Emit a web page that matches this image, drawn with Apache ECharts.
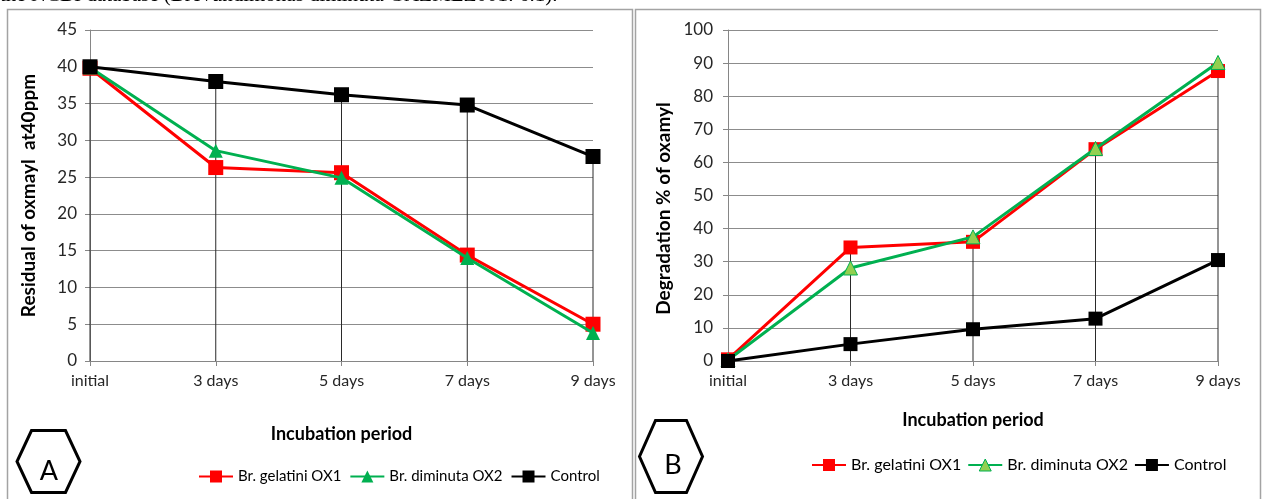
<!DOCTYPE html>
<html>
<head>
<meta charset="utf-8">
<script src="https://cdn.jsdelivr.net/npm/echarts@6/dist/echarts.min.js"></script>
<style>
html,body{margin:0;padding:0;background:#fff;}
#chart{width:1263px;height:499px;}
</style>
</head>
<body>
<div id="chart"></div>
<script>
// ---- data ----
const categories = ['initial', '3 days', '5 days', '7 days', '9 days'];
const seriesNames = ['Br. gelatini OX1', 'Br. diminuta OX2', 'Control'];
// Panel A: residual of oxamyl (ppm)
const residualGelatini = [39.8, 26.3, 25.6, 14.4, 5.0];
const residualDiminuta = [39.9, 28.6, 24.9, 14.0, 3.8];
const residualControl  = [40.0, 38.0, 36.2, 34.8, 27.8];
// Panel B: degradation %
const degradGelatini = [0.5, 34.3, 36.0, 64.0, 87.6];
const degradDiminuta = [0.3, 28.1, 37.5, 64.2, 90.2];
const degradControl  = [0.0, 5.1, 9.6, 12.8, 30.5];
// axis ranges
const residualAxis = {min: 0, max: 45, interval: 5};
const degradAxis = {min: 0, max: 100, interval: 10};
const panelLabels = ['A', 'B'];
const xTitle = 'Incubation period';
const yTitleA = 'Residual of oxmayl  at40ppm';
const yTitleB = 'Degradation % of oxamyl';
const headerText = 'the NCBI database (Brevundimonas diminuta GAZMEZ001: 6.1).';

// ---- styles ----
const FONT = 'Lato, "Open Sans", sans-serif';
const RED = '#ff0000', GREEN = '#00b050', LIGHTGREEN = '#92d050', BLACK = '#000000';
const AXIS = '#868686', GRID = '#8c8c8c';

function dropData(a, b, c) {
  return categories.map((_, i) => [i, Math.max(a[i], b[i], c[i])]);
}

function dropSeries(xi, data) {
  return {
    type: 'custom', xAxisIndex: xi, yAxisIndex: xi, z: 1, silent: true,
    data: data,
    renderItem: function (params, api) {
      const top = api.coord([api.value(0), api.value(1)]);
      const bot = api.coord([api.value(0), 0]);
      return {type: 'line', shape: {x1: top[0], y1: top[1], x2: bot[0], y2: bot[1]},
              style: {stroke: '#2a2a2a', lineWidth: 1}};
    }
  };
}

function lineSeries(xi, name, data, color, symbol, size, fill, border, z) {
  return {
    type: 'line', name: name, xAxisIndex: xi, yAxisIndex: xi, data: data,
    symbol: symbol, symbolSize: size, z: z,
    lineStyle: {color: color, width: 3},
    itemStyle: {color: fill, borderColor: border, borderWidth: border === fill ? 0 : 1},
    emphasis: {disabled: true},
    animation: false
  };
}

function xAxisOpt(gi, gap) {
  return {
    type: 'category', gridIndex: gi, data: categories, boundaryGap: false,
    axisLine: {lineStyle: {color: AXIS, width: 1}},
    axisTick: {show: true, length: 5, lineStyle: {color: AXIS}},
    axisLabel: {color: '#262626', fontSize: 16, fontFamily: FONT, margin: 12},
    splitLine: {show: false},
    name: xTitle, nameLocation: 'middle', nameGap: gap,
    nameTextStyle: {color: '#000', fontSize: 18, fontWeight: 'bold', fontFamily: FONT}
  };
}

function yAxisOpt(gi, range, title, gap, lblMargin, pad) {
  return {
    type: 'value', gridIndex: gi, min: range.min, max: range.max, interval: range.interval,
    axisLine: {show: true, lineStyle: {color: AXIS, width: 1}},
    axisTick: {show: true, length: 5, lineStyle: {color: AXIS}},
    axisLabel: {color: '#262626', fontSize: 17, fontFamily: FONT, margin: lblMargin},
    splitLine: {show: true, lineStyle: {color: GRID, width: 1}},
    name: title, nameLocation: 'middle', nameGap: gap,
    nameTextStyle: {color: '#000', fontSize: 19, fontWeight: 'bold', fontFamily: FONT, padding: pad}
  };
}

function hexagon(cx, cy, hw, tw, hh) {
  return [[cx - tw, cy - hh], [cx + tw, cy - hh], [cx + hw, cy], [cx + tw, cy + hh], [cx - tw, cy + hh], [cx - hw, cy]];
}

const legendText = {color: '#000', fontSize: 15, fontFamily: FONT};

const option = {
  backgroundColor: '#fff',
  animation: false,
  grid: [
    {left: 90, top: 30, width: 503, height: 331},
    {left: 728, top: 30, width: 490, height: 331}
  ],
  xAxis: [xAxisOpt(0, 64), xAxisOpt(1, 50)],
  yAxis: [yAxisOpt(0, residualAxis, yTitleA, 52, 13, [0, 0, 0, 0]),
          yAxisOpt(1, degradAxis, yTitleB, 55, 15, [0, 26, 0, 0])],
  legend: [
    {left: 193, top: 464, itemWidth: 34, itemHeight: 15, itemGap: 8, textStyle: legendText,
     data: seriesNames, selectedMode: false},
    {left: 806, top: 452, itemWidth: 34, itemHeight: 15, itemGap: 6,
     textStyle: {color: '#000', fontSize: 16, fontFamily: FONT},
     selectedMode: false,
     data: [
       {name: seriesNames[0], itemStyle: {color: RED, borderWidth: 0}},
       {name: seriesNames[1], itemStyle: {color: LIGHTGREEN, borderColor: GREEN, borderWidth: 1}},
       {name: seriesNames[2], itemStyle: {color: BLACK, borderWidth: 0}}
     ]}
  ],
  series: [
    dropSeries(0, dropData(residualGelatini, residualDiminuta, residualControl)),
    lineSeries(0, seriesNames[0], residualGelatini, RED, 'rect', 15, RED, RED, 3),
    lineSeries(0, seriesNames[1], residualDiminuta, GREEN, 'triangle', 14, GREEN, GREEN, 4),
    lineSeries(0, seriesNames[2], residualControl, BLACK, 'rect', 15, BLACK, BLACK, 5),
    dropSeries(1, dropData(degradGelatini, degradDiminuta, degradControl)),
    lineSeries(1, seriesNames[0], degradGelatini, RED, 'rect', 14, RED, RED, 3),
    lineSeries(1, seriesNames[1], degradDiminuta, GREEN, 'triangle', 14, LIGHTGREEN, GREEN, 4),
    lineSeries(1, seriesNames[2], degradControl, BLACK, 'rect', 14, BLACK, BLACK, 5)
  ],
  graphic: [
    {type: 'rect', z: -10, shape: {x: 7.5, y: 9.5, width: 625, height: 500},
     style: {fill: 'none', stroke: '#a3a3a3', lineWidth: 1.5}},
    {type: 'rect', z: -10, shape: {x: 635.5, y: 9.5, width: 625, height: 500},
     style: {fill: 'none', stroke: '#a3a3a3', lineWidth: 1.5}},
    {type: 'text', left: 0, top: -15,
     style: {text: headerText, font: '21px "Liberation Serif", serif', fill: '#000'}},
    {type: 'polygon', shape: {points: hexagon(48.5, 461.5, 31.5, 17, 31)},
     style: {fill: '#fff', stroke: '#000', lineWidth: 3}},
    {type: 'text', x: 49, y: 471,
     style: {text: panelLabels[0], font: '27px ' + FONT, fill: '#000', textAlign: 'center', textVerticalAlign: 'middle'}},
    {type: 'polygon', shape: {points: hexagon(671, 456.5, 31.5, 15.5, 36)},
     style: {fill: '#fff', stroke: '#000', lineWidth: 3}},
    {type: 'text', x: 673, y: 465,
     style: {text: panelLabels[1], font: '27px ' + FONT, fill: '#000', textAlign: 'center', textVerticalAlign: 'middle'}}
  ]
};

const chart = echarts.init(document.getElementById('chart'), null, {renderer: 'canvas'});
chart.setOption(option);
</script>
</body>
</html>
